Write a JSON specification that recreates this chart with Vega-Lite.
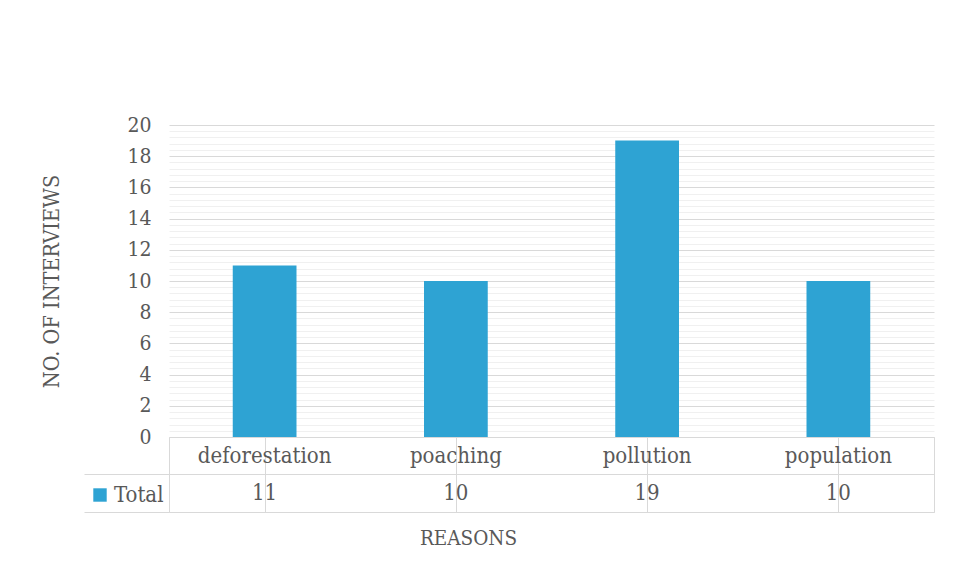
{
  "$schema": "https://vega.github.io/schema/vega-lite/v6.json",
  "background": "white",
  "padding": {"left": 41, "top": 114, "right": 25, "bottom": 20},
  "bounds": "flush",
  "spacing": 0,
  "config": {
    "font": "DejaVu Serif Condensed",
    "view": {"stroke": null},
    "axis": {"labelColor": "#595959", "titleColor": "#595959", "labelFont": "DejaVu Serif Condensed", "titleFont": "DejaVu Serif Condensed", "titleFontWeight": "normal"},
    "legend": {"labelFont": "DejaVu Serif Condensed"}
  },
  "data": {"values": [
    {"reason": "deforestation", "count": 11},
    {"reason": "poaching", "count": 10},
    {"reason": "pollution", "count": 19},
    {"reason": "population", "count": 10}
  ]},
  "resolve": {"scale": {"x": "independent"}},
  "vconcat": [
    {
      "width": 765,
      "height": 312,
      "layer": [
        {
          "mark": {"type": "point", "opacity": 0},
          "encoding": {
            "y": {"field": "count", "type": "quantitative", "scale": {"domain": [0, 20], "nice": false},
              "axis": {"orient": "left", "values": [0.4,0.8,1.2,1.6,2.4,2.8,3.2,3.6,4.4,4.8,5.2,5.6,6.4,6.8,7.2,7.6,8.4,8.8,9.2,9.6,10.4,10.8,11.2,11.6,12.4,12.8,13.2,13.6,14.4,14.8,15.2,15.6,16.4,16.8,17.2,17.6,18.4,18.8,19.2,19.6],
                "grid": true, "gridColor": "#f0f0f0", "labels": false, "ticks": false, "domain": false, "title": null}}
          }
        },
        {
          "mark": {"type": "bar", "width": {"band": 0.3333}},
          "encoding": {
            "x": {"field": "reason", "type": "nominal", "sort": null, "scale": {"paddingInner": 0, "paddingOuter": 0}, "axis": null},
            "y": {"field": "count", "type": "quantitative", "scale": {"domain": [0, 20], "nice": false},
              "axis": {"orient": "left", "values": [0,2,4,6,8,10,12,14,16,18,20], "grid": true, "gridColor": "#d9d9d9", "ticks": false, "domain": false, "labelFontSize": 21, "labelPadding": 18, "title": "NO. OF INTERVIEWS", "titleFontSize": 21.5, "titlePadding": 63}},
            "color": {"datum": "Total", "scale": {"range": ["#2ea3d3"]},
              "legend": {"orient": "none", "legendX": -80, "legendY": 359, "title": null, "symbolType": "square", "symbolSize": 180, "symbolStrokeWidth": 0, "labelFontSize": 22, "labelColor": "#595959", "labelOffset": 3}}
          }
        }
      ],
      "resolve": {"axis": {"y": "independent"}}
    },
    {
      "width": 765,
      "height": 75,
      "view": {"stroke": "#d9d9d9"},
      "layer": [
        {
          "mark": {"type": "text", "fontSize": 22, "color": "#595959", "font": "DejaVu Serif Condensed"},
          "encoding": {
            "x": {"field": "reason", "type": "nominal", "sort": null, "scale": {"paddingInner": 0, "paddingOuter": 0},
              "axis": {"orient": "bottom", "bandPosition": 0, "grid": true, "gridColor": "#d9d9d9", "labels": false, "ticks": false, "domain": false, "title": "REASONS", "titleFontSize": 20.5, "titlePadding": 16, "titleX": 299}},
            "y": {"datum": "cat", "type": "nominal", "scale": {"type": "band", "domain": ["cat", "Total"], "paddingInner": 0, "paddingOuter": 0},
              "axis": {"orient": "left", "bandPosition": 1, "grid": true, "gridColor": "#d9d9d9", "ticks": true, "tickSize": 85, "tickColor": "#d9d9d9", "labels": false, "domain": false, "title": null}},
            "text": {"field": "reason"}
          }
        },
        {
          "mark": {"type": "text", "fontSize": 22, "color": "#595959", "font": "DejaVu Serif Condensed"},
          "encoding": {
            "x": {"field": "reason", "type": "nominal", "sort": null},
            "y": {"datum": "Total", "type": "nominal"},
            "text": {"field": "count"}
          }
        }
      ]
    }
  ]
}
